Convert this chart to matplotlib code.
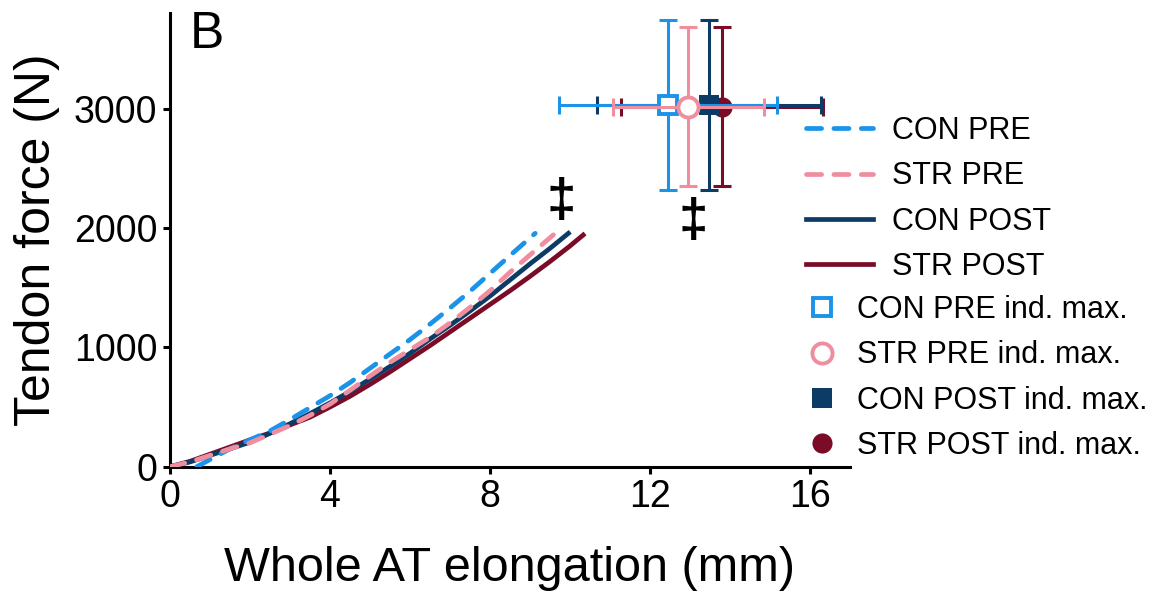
import matplotlib
matplotlib.use("Agg")
import matplotlib.pyplot as plt
from matplotlib.lines import Line2D

plt.rcParams["font.family"] = ["Liberation Sans", "DejaVu Sans"]

# mean force-elongation curves (mm, N)
con_pre_x = [0.67, 1.0, 1.5, 2.0, 2.5, 3.0, 3.5, 4.0, 4.5, 5.0, 5.5, 6.0, 6.5, 7.0, 7.5, 8.0, 8.5, 9.13]
con_pre_y = [0, 60, 150, 225, 300, 395, 495, 595, 705, 825, 945, 1065, 1195, 1330, 1470, 1620, 1770, 1956]

str_pre_x = [0.0, 0.5, 1.0, 1.5, 2.0, 2.5, 3.0, 3.5, 4.0, 4.5, 5.0, 5.5, 6.0, 6.5, 7.0, 7.5, 8.0, 8.5, 9.0, 9.63]
str_pre_y = [0, 40, 95, 150, 200, 272, 345, 430, 525, 640, 760, 875, 980, 1085, 1205, 1335, 1475, 1630, 1775, 1956]

con_post_x = [0.0, 0.5, 1.0, 1.5, 2.0, 2.5, 3.0, 3.5, 4.0, 4.5, 5.0, 5.5, 6.0, 6.5, 7.0, 7.5, 8.0, 8.5, 9.0, 9.5, 9.96]
con_post_y = [0, 40, 95, 150, 205, 280, 360, 445, 535, 630, 735, 840, 950, 1070, 1185, 1305, 1430, 1565, 1700, 1830, 1956]

str_post_x = [0.0, 0.5, 1.0, 1.5, 2.0, 2.5, 3.0, 3.5, 4.0, 4.5, 5.0, 5.5, 6.0, 6.5, 7.0, 7.5, 8.0, 8.5, 9.0, 9.5, 10.0, 10.33]
str_post_y = [0, 45, 105, 165, 225, 283, 350, 415, 500, 590, 690, 795, 905, 1015, 1130, 1245, 1360, 1475, 1595, 1720, 1850, 1942]

# individual maximum: mean and SD (elongation mm, force N)
groups = ["CON PRE", "STR PRE", "CON POST", "STR POST"]
max_elong = [12.45, 12.96, 13.47, 13.80]
max_elong_sd = [2.73, 1.89, 2.80, 2.53]
max_force = [3030, 3015, 3030, 3015]
max_force_sd = [710, 666, 710, 666]

colors = ["#1b93e8", "#f08ea0", "#0c3c66", "#7a0c27"]

fig = plt.figure(figsize=(11.68, 5.96), dpi=100)
ax = fig.add_axes([170 / 1168, 1 - 466.7 / 596, 680 / 1168, 453.4 / 596])

lw = 3.4
dash = dict(linestyle=(0, (3.2, 2.6)), dash_capstyle="round")
ax.plot(con_pre_x, con_pre_y, color=colors[0], lw=lw, **dash, zorder=3)
ax.plot(str_post_x, str_post_y, color=colors[3], lw=lw, zorder=2)
ax.plot(con_post_x, con_post_y, color=colors[2], lw=lw, zorder=2)
ax.plot(str_pre_x, str_pre_y, color=colors[1], lw=lw, **dash, zorder=4)

# error crosses, drawn back to front
marker_kw = [
    dict(marker="s", ms=13, mfc="white", mec=colors[0], mew=2.8),
    dict(marker="o", ms=14.5, mfc="white", mec=colors[1], mew=2.8),
    dict(marker="s", ms=14.5, mfc=colors[2], mec=colors[2], mew=0),
    dict(marker="o", ms=14.5, mfc=colors[3], mec=colors[3], mew=0),
]
draw_order = [3, 2, 0, 1]
for z, i in enumerate(draw_order):
    ax.errorbar(max_elong[i], max_force[i], xerr=max_elong_sd[i], yerr=max_force_sd[i],
                fmt="none", ecolor=colors[i], elinewidth=2.2, capsize=6.5, capthick=2.2,
                zorder=5 + 2 * z)
    ax.plot(max_elong[i], max_force[i], linestyle="none", zorder=6 + 2 * z, **marker_kw[i])

# significance markers
ax.text(9.77, 2217, "\u2021", fontsize=38, fontweight="bold", ha="center", va="center")
ax.text(13.09, 2050, "\u2021", fontsize=38, fontweight="bold", ha="center", va="center")

ax.set_xlim(0, 17)
ax.set_ylim(0, 3800)
ax.set_xticks([0, 4, 8, 12, 16])
ax.set_yticks([0, 1000, 2000, 3000])
ax.spines["top"].set_visible(False)
ax.spines["right"].set_visible(False)
for s in ("left", "bottom"):
    ax.spines[s].set_linewidth(2.2)
ax.tick_params(labelsize=27, width=2.2, length=5, pad=4)
ax.set_xlabel("Whole AT elongation (mm)", fontsize=35, labelpad=22)
ax.set_ylabel("Tendon force (N)", fontsize=36, labelpad=10)

fig.text(190 / 1168, 1 - 10 / 596, "B", fontsize=37, va="top", ha="left")

line_handles = [
    Line2D([], [], color=colors[0], lw=lw, **dash),
    Line2D([], [], color=colors[1], lw=lw, **dash),
    Line2D([], [], color=colors[2], lw=lw),
    Line2D([], [], color=colors[3], lw=lw),
]
leg1 = fig.legend(line_handles, groups, loc="upper left",
                  bbox_to_anchor=(806 / 1168, 1 - 116 / 596), frameon=False,
                  fontsize=22, handlelength=2.2, handletextpad=0.62,
                  labelspacing=0.5, borderpad=0, borderaxespad=0)

marker_handles = [Line2D([], [], linestyle="none", **kw) for kw in marker_kw]
leg2 = fig.legend(marker_handles, [g + " ind. max." for g in groups], loc="upper left",
                  bbox_to_anchor=(806 / 1168, 1 - 295 / 596), frameon=False,
                  fontsize=22, handlelength=1.05, handletextpad=0.62,
                  labelspacing=0.5, borderpad=0, borderaxespad=0)

fig.savefig("out.png", dpi=100)
